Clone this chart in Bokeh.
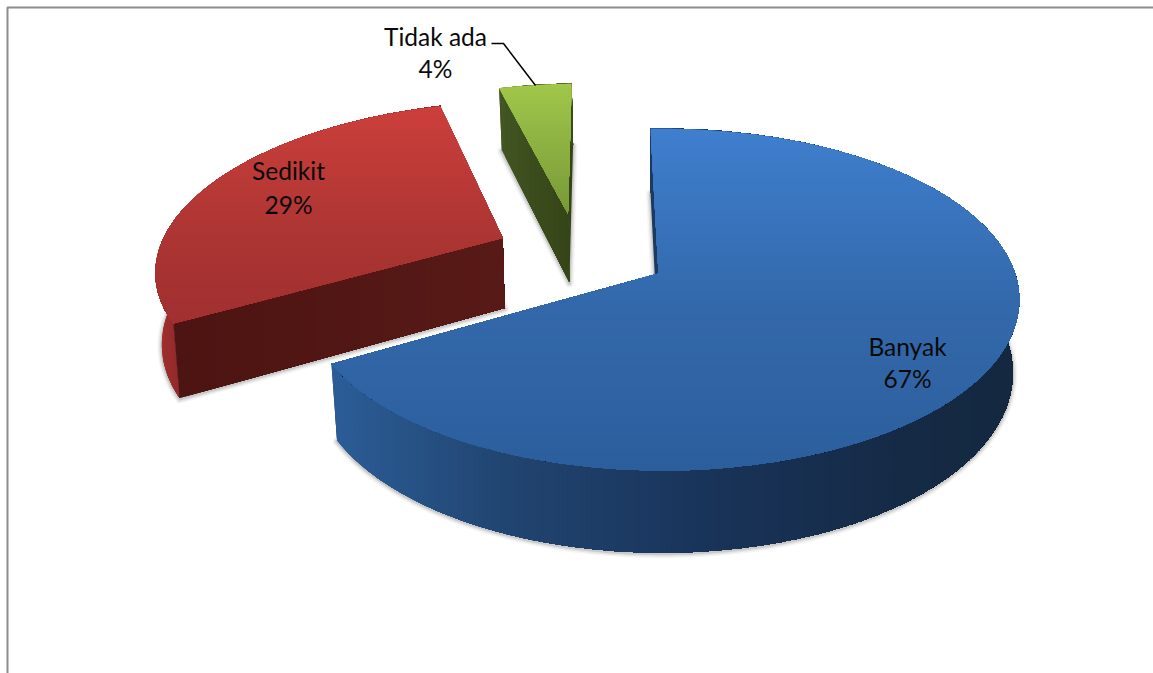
import numpy as np
from bokeh.plotting import figure
from bokeh.models import Range1d
from bokeh.core.properties import value
from bokeh.embed import file_html
from bokeh.resources import INLINE

categories = ["Banyak", "Sedikit", "Tidak ada"]
values = [67, 29, 4]
label_texts = ["67%", "29%", "4%"]

# (offset in the pie's plane)
explode_u = [0.0, -0.458, -0.272]
explode_v = [0.0, -0.22, -0.38]
radius = [1.0, 1.012, 1.0]
taper = [0.0175, 0.013, 0.0175]
top_grad = [
    [(128, "#3f7fce"), (300, "#3369ab"), (470, "#2c5e9c")],
    [(105, "#cb3f3b"), (250, "#a93432"), (330, "#a03030")],
    [(84, "#a0c64a"), (213, "#779838")],
]
wall_grad = [
    [(338, "#2b5c95"), (500, "#214571"), (700, "#19345a"), (900, "#152a45"), (1015, "#14283f")],
    [(155, "#a03030"), (187, "#8a2725")],
    [(497, "#3f5020"), (575, "#3a4a1c")],
]
front_grad = [
    [(645, "#1b3a60"), (660, "#1b3a60")],
    [(177, "#4c1412"), (505, "#581a17")],
    [(497, "#425522"), (575, "#344216")],
]
CX, CY, A, B, K, M = 658.0, 273.0, 353.0, 167.0, 0.152, 0.01
ROT = -1.5


def proj(u, v):
    w = 1 - K * v - M * u
    return CX + A * u / w, CY + B * v / w


def extrude(q, f):
    x, y = q
    return x + (650 - x) * f, y + 62 + 0.053 * (y - 88)


def clip(pts, axis, limit):
    out = []
    n = len(pts)
    for i in range(n):
        a, b = pts[i], pts[(i + 1) % n]
        ina, inb = a[axis] >= limit, b[axis] >= limit
        if ina:
            out.append(a)
        if ina != inb:
            t = (limit - a[axis]) / (b[axis] - a[axis])
            out.append((a[0] + t * (b[0] - a[0]), a[1] + t * (b[1] - a[1])))
    return out


def hexrgb(h):
    return np.array([int(h[i:i + 2], 16) for i in (1, 3, 5)], float)


def ramp(stops, t):
    ts = [s[0] for s in stops]
    cs = [hexrgb(s[1]) for s in stops]
    c = [np.interp(t, ts, [q[i] for q in cs]) for i in range(3)]
    return "#%02x%02x%02x" % tuple(int(round(q)) for q in c)


xs, ys, colors = [], [], []


def shade(poly, axis, stops, step):
    vals = [q[axis] for q in poly]
    lo, hi = min(vals), max(vals)
    t = lo
    while t < hi:
        part = poly if t == lo else clip(poly, axis, t)
        if len(part) >= 3:
            xs.append([q[0] for q in part])
            ys.append([q[1] for q in part])
            colors.append(ramp(stops, t))
        t += step


p = figure(width=1153, height=673, output_backend="svg", toolbar_location=None,
           x_range=Range1d(0, 1153), y_range=Range1d(673, 0), min_border=0,
           outline_line_color=None, background_fill_color="white")
p.axis.visible = False
p.grid.visible = False

edges = np.cumsum([0] + values) * 3.6 + ROT
shapes = []
for i in range(len(values)):
    th = np.radians(np.linspace(edges[i], edges[i + 1], max(int(values[i]) * 4, 24)))
    arc = [proj(explode_u[i] + radius[i] * np.sin(t), explode_v[i] - radius[i] * np.cos(t)) for t in th]
    apex = proj(explode_u[i], explode_v[i])
    shapes.append((arc, apex))

# soft shadow beneath each slice's base
for i, (arc, apex) in enumerate(shapes):
    base = [extrude(q, taper[i]) for q in [apex] + arc]
    bx = [q[0] for q in base]
    by = [q[1] for q in base]
    for lw, al in ((9, 0.05), (6, 0.09), (3, 0.16)):
        p.patch(bx, [q + 1 for q in by], fill_color=None, line_color="#444444",
                line_width=lw, line_alpha=al, line_join="round")

for i in [1, 2, 0]:
    arc, apex = shapes[i]
    low = [extrude(q, taper[i]) for q in arc]
    alow = extrude(apex, taper[i])
    # far radial face
    shade([apex, arc[-1], low[-1], alow], 0, front_grad[i], 6)
    # outer wall
    shade(arc + low[::-1], 0, wall_grad[i], 4)
    # near radial face
    shade([apex, arc[0], low[0], alow], 0, front_grad[i], 6)
    # top face
    shade([apex] + arc, 1, top_grad[i], 3)

p.patches(xs, ys, fill_color=colors, line_color=None)

# chart frame
p.line([7, 7, 1153], [673, 7, 7], line_color="#8c8c8c", line_width=2)

# leader line
p.line([491, 503, 535], [43, 43, 85], line_color="black", line_width=1.5)

lab_x = [907, 288, 435]
lab_y1 = [346, 170, 36]
lab_y2 = [378, 204, 68]
for x, y1, y2, c, t in zip(lab_x, lab_y1, lab_y2, categories, label_texts):
    for y, s in ((y1, c), (y2, t)):
        p.text([x], [y], text=[s], text_font=value("Lato"), text_font_size="24.5px",
               text_color="#0a0a0a", text_align="center", text_baseline="middle")

open("out.html", "w").write(file_html(p, INLINE))
